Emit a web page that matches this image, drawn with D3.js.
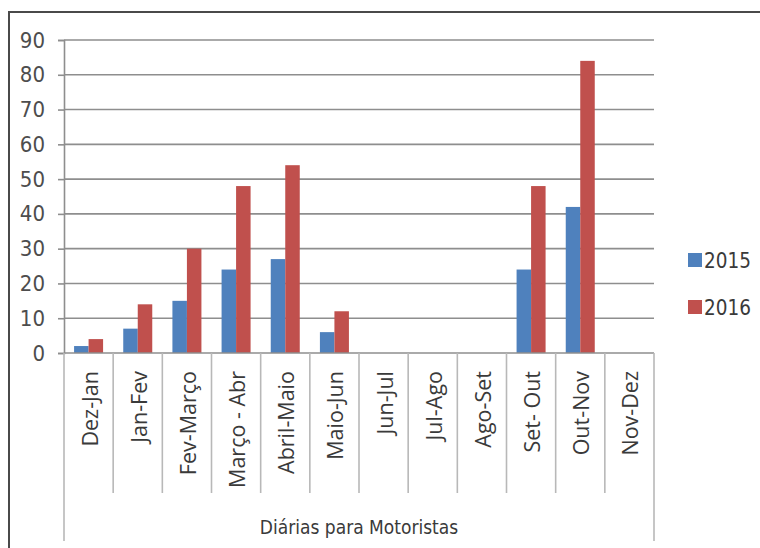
<!DOCTYPE html>
<html>
<head>
<meta charset="utf-8">
<script src="https://cdn.jsdelivr.net/npm/d3@7"></script>
<style>
html,body{margin:0;padding:0;background:#fff;}
svg{display:block;}
</style>
</head>
<body>
<svg id="chart" width="760" height="548"></svg>
<script>
const categories = ["Dez-Jan","Jan-Fev","Fev-Março","Março - Abr","Abril-Maio","Maio-Jun","Jun-Jul","Jul-Ago","Ago-Set","Set- Out","Out-Nov","Nov-Dez"];
const seriesNames = ["2015","2016"];
const values2015 = [2,7,15,24,27,6,0,0,0,24,42,0];
const values2016 = [4,14,30,48,54,12,0,0,0,48,84,0];
const yTicks = [0,10,20,30,40,50,60,70,80,90];
const axisTitle = "Diárias para Motoristas";
const colors = ["#4F81BD","#C0504D"];

(function(){
const svg = d3.select("#chart");
const W = 760, H = 548;
const pLeft = 64, pRight = 654, pTop = 40, pBottom = 353;
const narrow = "'Liberation Sans Narrow','Arial Narrow','DejaVu Sans Condensed',sans-serif";

// outer frame
svg.append("rect").attr("x", 9).attr("y", 12).attr("width", W + 20).attr("height", H + 20)
  .attr("fill", "none").attr("stroke", "#4a4a4a").attr("stroke-width", 2);

const y = d3.scaleLinear().domain([0, 90]).range([pBottom, pTop]);
const x0 = d3.scaleBand().domain(categories).range([pLeft, pRight]).paddingInner(0.41).paddingOuter(0.205);
const x1 = d3.scaleBand().domain(seriesNames).range([0, x0.bandwidth()]);

// gridlines
svg.append("g").selectAll("line").data(yTicks.filter(d => d > 0)).join("line")
  .attr("x1", pLeft).attr("x2", pRight)
  .attr("y1", d => y(d)).attr("y2", d => y(d))
  .attr("stroke", "#8e8e8e").attr("stroke-width", 1.6);

// y axis
const yAxis = svg.append("g").attr("transform", `translate(${pLeft},0)`)
  .call(d3.axisLeft(y).tickValues(yTicks).tickSize(6).tickPadding(13));
yAxis.select(".domain").attr("stroke", "#8e8e8e").attr("stroke-width", 1.6);
yAxis.selectAll(".tick line").attr("stroke", "#8e8e8e").attr("stroke-width", 1.6);
yAxis.selectAll(".tick text").attr("font-family", narrow).attr("font-size", 22).attr("fill", "#4d4d4d");

// bars
const data = categories.map((c, i) => ({cat: c, vals: [values2015[i], values2016[i]]}));
svg.append("g").selectAll("g").data(data).join("g")
  .attr("transform", d => `translate(${x0(d.cat)},0)`)
  .selectAll("rect").data(d => d.vals.map((v, j) => ({name: seriesNames[j], v, j}))).join("rect")
  .attr("x", d => x1(d.name)).attr("width", x1.bandwidth())
  .attr("y", d => y(d.v)).attr("height", d => y(0) - y(d.v))
  .attr("fill", d => colors[d.j]);

// x axis line
svg.append("line").attr("x1", pLeft).attr("x2", pRight).attr("y1", pBottom).attr("y2", pBottom)
  .attr("stroke", "#8e8e8e").attr("stroke-width", 1.6);

// category dividers
const step = x0.step();
const bounds = d3.range(categories.length + 1).map(i => pLeft + i * step);
svg.append("g").selectAll("line").data(bounds).join("line")
  .attr("x1", d => d).attr("x2", d => d)
  .attr("y1", pBottom)
  .attr("y2", (d, i) => (i === 0 || i === categories.length) ? 541 : 493)
  .attr("stroke", "#b8b8b8").attr("stroke-width", 1.6);

// category labels
svg.append("g").selectAll("text").data(categories).join("text")
  .attr("transform", d => `translate(${x0(d) + x0.bandwidth() / 2 + 1.5},371) rotate(-90)`)
  .attr("text-anchor", "end").attr("dy", "0.35em")
  .attr("font-family", "'Open Sans',sans-serif").attr("font-size", 21.5)
  .attr("fill", "#3a3a3a").text(d => d);

// axis title
svg.append("text").attr("x", (pLeft + pRight) / 2).attr("y", 534)
  .attr("text-anchor", "middle").attr("font-family", narrow).attr("font-size", 19)
  .attr("fill", "#3a3a3a").text(axisTitle);

// legend
const lg = svg.append("g").selectAll("g").data(seriesNames).join("g")
  .attr("transform", (d, i) => `translate(688,${253 + i * 47})`);
lg.append("rect").attr("width", 14).attr("height", 14).attr("fill", (d, i) => colors[i]);
lg.append("text").attr("x", 16).attr("y", 15).attr("font-family", narrow).attr("font-size", 20.5)
  .attr("fill", "#3a3a3a").text(d => d);
})();
</script>
</body>
</html>
